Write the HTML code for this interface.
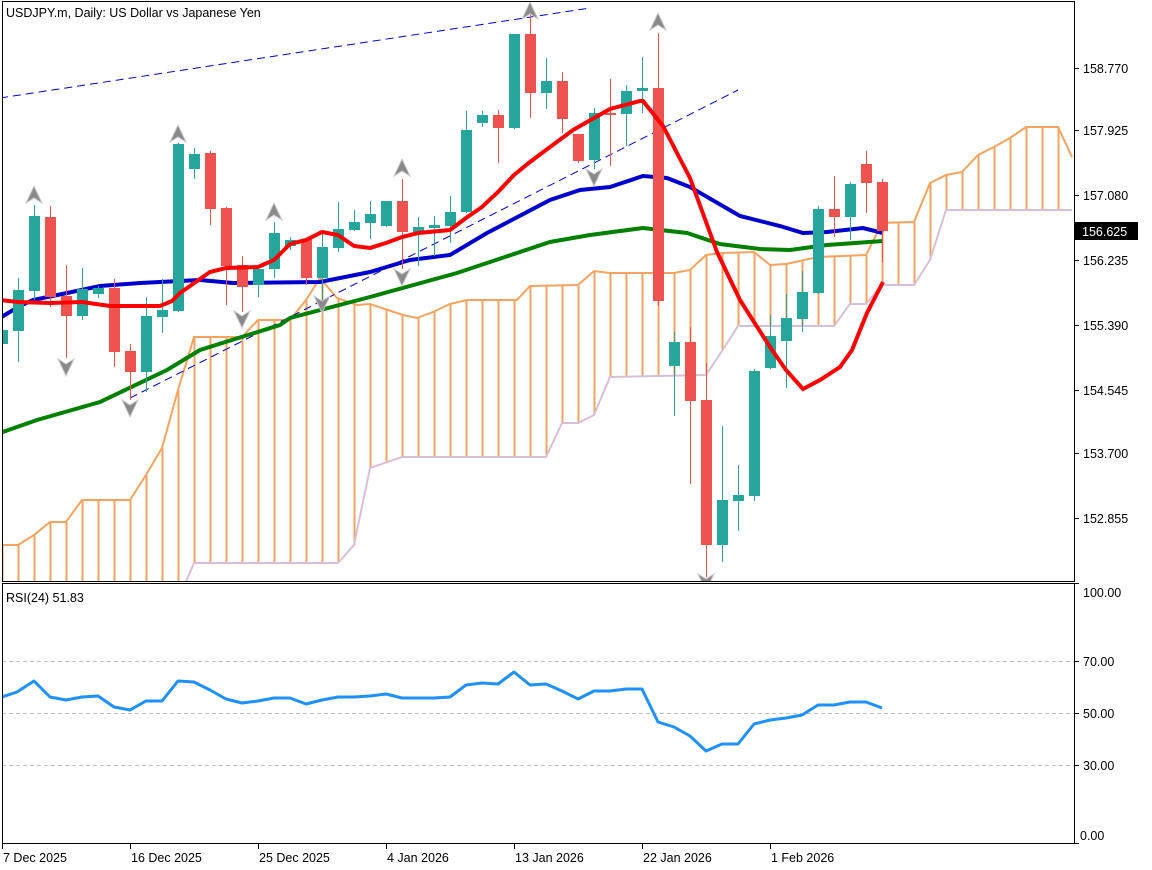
<!DOCTYPE html>
<html><head><meta charset="utf-8"><style>
html,body{margin:0;padding:0;background:#fff;width:1152px;height:870px;overflow:hidden}
svg{display:block}
text{font-family:"Liberation Sans",sans-serif;font-size:12.5px;fill:#000}
</style></head><body>
<svg id="s" width="1152" height="870" xmlns="http://www.w3.org/2000/svg">
<defs><clipPath id="cm"><rect x="2" y="1" width="1072" height="580"/></clipPath>
<clipPath id="cr"><rect x="2" y="583" width="1072" height="260"/></clipPath></defs>
<g id="main" clip-path="url(#cm)"></g>
<g id="rsi" clip-path="url(#cr)"></g>
<g id="ax"></g>
<text x="6" y="17">USDJPY.m, Daily:  US Dollar vs Japanese Yen</text>
<text x="6" y="602">RSI(24) 51.83</text>
</svg>
<script>
const NS="http://www.w3.org/2000/svg";
function el(p,t,a,txt){const e=document.createElementNS(NS,t);for(const k in a)e.setAttribute(k,a[k]);if(txt!=null)e.textContent=txt;p.appendChild(e);return e;}
const M=document.getElementById('main'),R=document.getElementById('rsi'),A=document.getElementById('ax');
function interp(pts,x){if(x<=pts[0][0])return pts[0][1];for(let i=1;i<pts.length;i++){if(x<=pts[i][0]){const a=pts[i-1],b=pts[i];return a[1]+(b[1]-a[1])*(x-a[0])/(b[0]-a[0]);}}return pts[pts.length-1][1];}
const spanA=[[2,545],[18,545],[34,535],[50,522],[66,522],[82,500],[130,500],[146,475],[162,448],[178,390],[194,337],[242,337],[258,320],[290,320],[306,300],[320,278],[337,298],[357,305],[370,304],[403,315],[417,318],[433,312],[450,304],[467,300],[517,300],[530,286],[578,285],[594,271],[610,273],[674,273],[690,270],[706,255],[722,253],[754,252],[770,265],[786,264],[818,257],[866,255],[882,223],[914,222],[930,183],[946,175],[962,172],[978,155],[994,147],[1010,138],[1026,127],[1058,127],[1072,157]];
const spanB=[[2,600],[178,600],[194,563],[338,563],[354,545],[370,468],[402,457],[546,457],[562,423],[578,423],[594,415],[610,377],[706,375],[722,351],[738,326],[834,326],[850,304],[866,304],[882,285],[914,285],[930,260],[946,210],[1072,210]];
for(let x=2;x<=1058;x+=16){el(M,'line',{x1:x+.5,x2:x+.5,y1:interp(spanA,x),y2:interp(spanB,x),stroke:'#f4a460','stroke-width':2});}
const pl=p=>p.map(q=>q.join(',')).join(' ');
el(M,'polyline',{points:pl(spanB),fill:'none',stroke:'#d8bfd8','stroke-width':2});
el(M,'polyline',{points:pl(spanA),fill:'none',stroke:'#f4a460','stroke-width':2});
// trendlines
el(M,'line',{x1:0,y1:98,x2:590,y2:8,stroke:'#0000cd','stroke-width':1,'stroke-dasharray':'8,5'});
el(M,'line',{x1:130,y1:398,x2:738,y2:90,stroke:'#0000cd','stroke-width':1,'stroke-dasharray':'8,5'});
// MAs
const green=[[0,433],[37,420],[100,402],[167,370],[200,350],[280,325],[290,318],[370,297],[457,273],[550,242],[590,235],[643,228],[687,233],[720,244],[760,249],[790,250],[827,245],[883,241]];
const blue=[[0,318],[18,307],[33,300],[67,293],[100,286],[140,283],[200,280],[233,283],[320,282],[370,272],[410,260],[450,255],[487,233],[550,200],[580,190],[610,187],[643,176],[667,178],[690,187],[740,216],[780,226],[803,233],[827,232],[863,228],[883,233]];
const red=[[0,300],[18,302],[50,303],[82,302],[110,306],[160,306],[172,301],[180,293],[210,272],[226,268],[258,267],[274,260],[290,244],[306,240],[322,232],[338,235],[354,246],[370,248],[386,243],[402,237],[418,233],[450,230],[466,218],[482,207],[498,192],[514,175],[530,162],[546,150],[573,130],[610,109],[640,101],[643,101],[663,126],[690,178],[717,252],[740,300],[770,347],[786,370],[803,389],[820,380],[840,367],[852,350],[867,313],[883,282]];
el(M,'polyline',{points:pl(green),fill:'none',stroke:'#008000','stroke-width':4});
el(M,'polyline',{points:pl(blue),fill:'none',stroke:'#0000cd','stroke-width':4});
// candles [bodyTop,bodyBot,wickTop,wickBot,up?]
const C=[[330,344,325,350,1],[290,331,278,362,1],[216,291,205,300,1],[217,297,206,307,0],[296,316,265,358,0],[289,316,268,320,1],[288,294,286,298,1],[288,352,279,367,0],[351,372,344,400,0],[316,372,297,392,1],[310,317,279,333,1],[144,311,143,312,1],[154,169,148,179,1],[153,209,151,225,0],[208,266,207,305,0],[265,287,256,312,0],[269,285,269,297,1],[233,269,222,278,1],[240,246,237,250,1],[239,278,239,285,0],[247,278,233,313,1],[229,248,202,252,1],[222,230,210,231,1],[214,223,201,239,1],[201,226,201,227,1],[201,232,179,269,0],[227,232,217,266,1],[225,228,216,256,1],[212,226,196,243,1],[130,212,111,213,1],[115,123,111,127,1],[115,128,110,163,0],[34,128,34,129,1],[34,93,15,118,0],[81,93,58,109,1],[81,119,72,133,0],[134,161,134,163,0],[113,160,108,169,1],[113,115,79,166,0],[91,114,85,146,1],[88,91,57,113,1],[88,301,33,306,0],[342,366,332,416,1],[342,401,327,484,0],[400,545,363,577,0],[500,545,426,562,1],[495,501,465,531,1],[371,496,369,501,1],[336,368,315,369,1],[318,341,294,388,1],[292,319,271,332,1],[209,293,206,294,1],[209,217,176,237,0],[184,217,182,240,1],[164,183,151,213,0],[182,231,179,262,0]];
C.forEach((c,i)=>{const x=2+16*i;const col=c[4]?'#26a69a':'#ef5350';
el(M,'line',{x1:x+.5,x2:x+.5,y1:c[2],y2:c[3],stroke:col,'stroke-width':1});
el(M,'rect',{x:x-5,y:c[0],width:11,height:Math.max(2,c[1]-c[0]),fill:col});});
el(M,'polyline',{points:pl(red),fill:'none',stroke:'#ff0000','stroke-width':4});
// fractals
function up(x,t){el(M,'polygon',{points:`${x},${t} ${x+8},${t+17} ${x},${t+12} ${x-8},${t+17}`,fill:'#8a8a8a',stroke:'#c8c8d0','stroke-width':1});}
function dn(x,t){el(M,'polygon',{points:`${x},${t+17} ${x+8},${t} ${x},${t+5} ${x-8},${t}`,fill:'#8a8a8a',stroke:'#c8c8d0','stroke-width':1});}
up(34,186);up(178,125);up(274,203);up(402,159);up(530,2);up(658,13);
dn(66,359);dn(130,400);dn(242,311);dn(322,296);dn(402,269);dn(594,169);dn(706,574);
// RSI
[661,713,765].forEach(y=>el(R,'line',{x1:2,x2:1074,y1:y+.5,y2:y+.5,stroke:'#c0c0c0','stroke-dasharray':'4,3'}));
const rs=[[2,697],[17,692],[34,681],[50,697],[66,700],[82,697],[98,696],[114,707],[130,710],[146,701],[162,701],[178,681],[194,682],[210,690],[226,699],[242,703],[258,701],[274,698],[290,698],[306,704],[322,700],[338,697],[354,697],[370,696],[386,694],[402,698],[418,698],[434,698],[450,697],[466,685],[482,683],[498,684],[514,672],[530,685],[546,684],[562,691],[578,699],[594,691],[610,691],[626,689],[642,689],[658,722],[674,727],[690,736],[706,751],[722,744],[738,744],[754,724],[770,720],[786,718],[802,715],[818,705],[834,705],[850,702],[866,702],[882,708]];
el(R,'polyline',{points:pl(rs),fill:'none',stroke:'#1e90ff','stroke-width':3,'stroke-linejoin':'round'});
// frames
el(A,'rect',{x:2.5,y:1.5,width:1072,height:580,fill:'none',stroke:'#000','stroke-width':1});
el(A,'rect',{x:2.5,y:583.5,width:1072,height:260,fill:'none',stroke:'#000','stroke-width':1});
[[158.770,68],[157.925,130],[157.080,195],[156.235,260],[155.390,325],[154.545,390],[153.700,453],[152.855,518]].forEach(p=>{
el(A,'line',{x1:1074,x2:1079,y1:p[1]+.5,y2:p[1]+.5,stroke:'#000'});
el(A,'text',{x:1083,y:p[1]+5},p[0].toFixed(3));});
[[100,592],[70,661],[50,713],[30,765],[0,835]].forEach(p=>{
const ty=p[0]==100?583:(p[0]==0?843:p[1]);
el(A,'line',{x1:1074,x2:1079,y1:ty+.5,y2:ty+.5,stroke:'#000'});
el(A,'text',{x:p[0]==0?1080:1083,y:p[1]+5},p[0].toFixed(2));});
el(A,'rect',{x:1075,y:222,width:63,height:18,fill:'#000'});
el(A,'text',{x:1082,y:236,style:'fill:#fff'},'156.625');
[['7 Dec 2025',2],['16 Dec 2025',130],['25 Dec 2025',258],['4 Jan 2026',386],['13 Jan 2026',514],['22 Jan 2026',642],['1 Feb 2026',770]].forEach(d=>{
el(A,'line',{x1:d[1]+.5,x2:d[1]+.5,y1:843,y2:849,stroke:'#000'});
el(A,'text',{x:d[1]+1,y:862},d[0]);});
</script>
</body></html>
